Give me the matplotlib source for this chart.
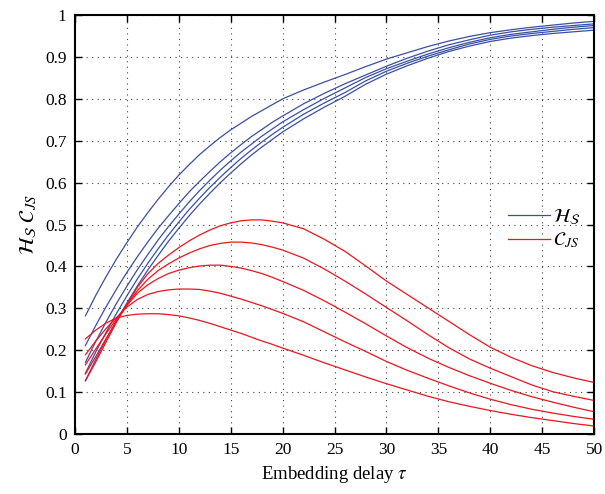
import numpy as np
import matplotlib
matplotlib.use('Agg')
import matplotlib.pyplot as plt
from matplotlib.ticker import FormatStrFormatter, MultipleLocator

plt.rcParams['font.family'] = ['Liberation Serif', 'DejaVu Serif']
plt.rcParams['mathtext.fontset'] = 'stix'

# Embedding delay samples
tau = [1, 2, 3, 4, 5, 6, 7, 8, 9, 10, 11, 12, 13, 14, 15, 16, 17, 18, 19, 20,
       22, 24, 26, 28, 30, 32, 34, 36, 38, 40, 42, 44, 46, 48, 50]

# Normalised permutation entropy H_S (blue), one list per curve
h_1 = [0.282, 0.331, 0.376, 0.418, 0.457, 0.494, 0.528, 0.560, 0.590, 0.618,
       0.643, 0.667, 0.688, 0.708, 0.726, 0.742, 0.758, 0.772, 0.786, 0.800,
       0.821, 0.840, 0.858, 0.877, 0.895, 0.910, 0.925, 0.938, 0.949, 0.958,
       0.965, 0.971, 0.976, 0.981, 0.985]
h_2 = [0.211, 0.259, 0.304, 0.346, 0.386, 0.423, 0.458, 0.491, 0.521, 0.550,
       0.578, 0.603, 0.627, 0.650, 0.671, 0.691, 0.710, 0.727, 0.744, 0.759,
       0.788, 0.813, 0.836, 0.857, 0.878, 0.897, 0.914, 0.929, 0.941, 0.952,
       0.960, 0.966, 0.971, 0.975, 0.979]
h_3 = [0.171, 0.221, 0.268, 0.312, 0.353, 0.392, 0.428, 0.463, 0.495, 0.525,
       0.554, 0.581, 0.606, 0.630, 0.652, 0.673, 0.692, 0.711, 0.728, 0.745,
       0.774, 0.801, 0.826, 0.851, 0.872, 0.890, 0.907, 0.922, 0.935, 0.946,
       0.954, 0.960, 0.966, 0.971, 0.975]
h_4 = [0.145, 0.196, 0.243, 0.288, 0.330, 0.370, 0.407, 0.442, 0.475, 0.506,
       0.536, 0.563, 0.589, 0.613, 0.636, 0.658, 0.678, 0.697, 0.715, 0.732,
       0.763, 0.790, 0.815, 0.843, 0.866, 0.885, 0.902, 0.917, 0.931, 0.942,
       0.950, 0.956, 0.961, 0.966, 0.970]
h_5 = [0.127, 0.178, 0.226, 0.271, 0.313, 0.353, 0.391, 0.426, 0.460, 0.491,
       0.521, 0.549, 0.575, 0.600, 0.623, 0.645, 0.666, 0.685, 0.703, 0.721,
       0.752, 0.780, 0.806, 0.835, 0.859, 0.879, 0.897, 0.913, 0.926, 0.937,
       0.945, 0.951, 0.956, 0.960, 0.964]

# Statistical complexity C_JS (red)
c_1 = [0.127, 0.172, 0.220, 0.267, 0.310, 0.350, 0.382, 0.407, 0.427, 0.445,
       0.461, 0.475, 0.487, 0.497, 0.504, 0.509, 0.511, 0.511, 0.508, 0.504,
       0.490, 0.465, 0.436, 0.401, 0.365, 0.333, 0.301, 0.269, 0.237, 0.207,
       0.183, 0.163, 0.147, 0.134, 0.123]
c_2 = [0.143, 0.185, 0.228, 0.270, 0.308, 0.342, 0.369, 0.390, 0.406, 0.420,
       0.432, 0.442, 0.450, 0.455, 0.458, 0.458, 0.456, 0.452, 0.446, 0.439,
       0.420, 0.394, 0.365, 0.334, 0.302, 0.270, 0.237, 0.206, 0.179, 0.157,
       0.137, 0.117, 0.101, 0.090, 0.080]
c_3 = [0.165, 0.203, 0.240, 0.275, 0.307, 0.336, 0.356, 0.371, 0.383, 0.391,
       0.397, 0.401, 0.403, 0.403, 0.400, 0.396, 0.390, 0.383, 0.374, 0.364,
       0.343, 0.318, 0.291, 0.263, 0.234, 0.206, 0.181, 0.159, 0.139, 0.121,
       0.104, 0.089, 0.076, 0.064, 0.053]
c_4 = [0.189, 0.222, 0.252, 0.278, 0.303, 0.321, 0.333, 0.340, 0.344, 0.346,
       0.346, 0.345, 0.341, 0.336, 0.329, 0.322, 0.314, 0.306, 0.297, 0.288,
       0.268, 0.244, 0.220, 0.197, 0.173, 0.152, 0.133, 0.115, 0.098, 0.083,
       0.070, 0.059, 0.050, 0.042, 0.035]
c_5 = [0.227, 0.248, 0.265, 0.277, 0.283, 0.286, 0.287, 0.287, 0.285, 0.282,
       0.277, 0.271, 0.264, 0.256, 0.248, 0.240, 0.231, 0.222, 0.214, 0.205,
       0.188, 0.170, 0.153, 0.136, 0.120, 0.105, 0.090, 0.077, 0.066, 0.056,
       0.047, 0.039, 0.032, 0.025, 0.019]

h_curves = [h_1, h_2, h_3, h_4, h_5]
c_curves = [c_1, c_2, c_3, c_4, c_5]

BLUE = '#3a4fa6'
RED = '#f0141e'

fig = plt.figure(figsize=(6.05, 4.94), dpi=100)
ax = fig.add_axes([0.124, 0.1215, 0.858, 0.848])

for i, h in enumerate(h_curves):
    ax.plot(tau, h, color=BLUE, lw=0.9,
            label=r'$\mathcal{H}_{\mathcal{S}}$' if i == 0 else None)
for i, c in enumerate(c_curves):
    ax.plot(tau, c, color=RED, lw=0.9,
            label=r'$\mathcal{C}_{JS}$' if i == 0 else None)

ax.set_xlim(0, 50)
ax.set_ylim(0, 1)
ax.xaxis.set_major_locator(MultipleLocator(5))
ax.yaxis.set_major_locator(MultipleLocator(0.1))
ax.yaxis.set_major_formatter(FormatStrFormatter('%g'))
ax.grid(True, linestyle=(0, (1, 4)), color='#444444', lw=0.8)
ax.tick_params(direction='in', top=True, right=True, length=5, width=1,
               labelsize=12.5, pad=6)
for s in ax.spines.values():
    s.set_linewidth(1.5)

ax.set_xlabel(r'Embedding delay $\tau$', fontsize=13.5, labelpad=4)
ax.set_ylabel(r'$\mathcal{H}_{\mathcal{S}}\ \mathcal{C}_{JS}$', fontsize=15,
              labelpad=4)

ax.legend(loc='center left', bbox_to_anchor=(0.80, 0.49), frameon=False,
          fontsize=14, handlelength=2.15, handletextpad=0.2, labelspacing=0.2)

fig.savefig('out.png', dpi=100)
